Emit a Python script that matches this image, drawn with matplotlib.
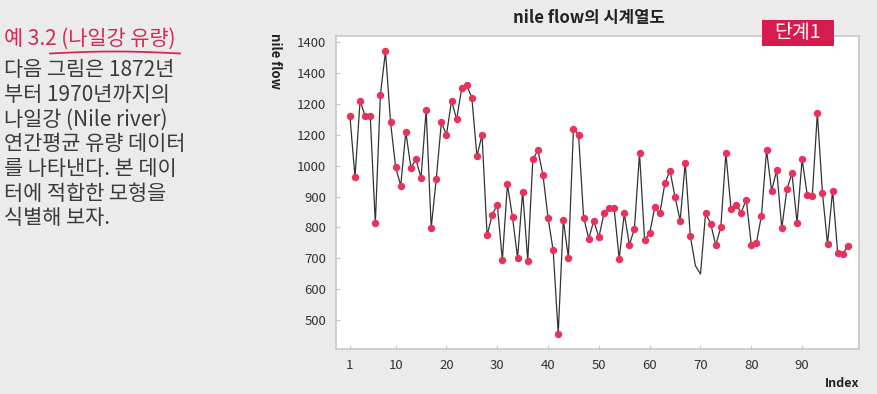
import numpy as np
import matplotlib
matplotlib.use('Agg')
import matplotlib.pyplot as plt
from matplotlib.lines import Line2D
from matplotlib.patches import Rectangle

plt.rcParams['font.family'] = ['Noto Sans CJK KR', 'DejaVu Sans']

# nile flow, 1872-1970
flow = [1160, 963, 1210, 1160, 1160, 813, 1230, 1370, 1140, 995,
        935, 1110, 994, 1020, 960, 1180, 799, 958, 1140, 1100,
        1210, 1150, 1250, 1260, 1220, 1030, 1100, 774, 840, 874,
        694, 940, 833, 701, 916, 692, 1020, 1050, 969, 831,
        726, 456, 824, 702, 1120, 1100, 832, 764, 821, 768,
        845, 864, 862, 698, 845, 744, 796, 1040, 759, 781,
        865, 845, 944, 984, 897, 822, 1010, 771, 676, 649,
        846, 812, 742, 801, 1040, 860, 874, 848, 890, 744,
        749, 838, 1050, 918, 986, 797, 923, 975, 815, 1020,
        906, 901, 1170, 912, 746, 919, 718, 714, 740]
no_marker = [69, 70]  # these two have no dot in the slide
xticks = [1, 10, 20, 30, 40, 50, 60, 70, 80, 90]
yticks = [1400, 1300, 1200, 1100, 1000, 900, 800, 700, 600, 500]
ytick_labels = ['1400', '1400', '1200', '1200', '1000', '900', '800', '700', '600', '500']

idx = np.arange(1, len(flow) + 1)
marks = [i for i in range(len(flow)) if idx[i] not in no_marker]

bg = '#ebebeb'
fig = plt.figure(figsize=(8.77, 3.94), dpi=100, facecolor=bg)
ax = fig.add_axes([0.383, 0.1142, 0.5965, 0.7944])
ax.set_facecolor('white')

ax.plot(idx, flow, color='#333333', lw=0.9, marker='o', markevery=marks,
        ms=4.3, mfc='#e8315c', mec='#e8315c', zorder=3)

ax.set_xlim(-1.76, 101.2)
ax.set_ylim(406, 1420)
ax.set_xticks(xticks)
ax.set_yticks(yticks)
ax.set_yticklabels(ytick_labels)
for s in ax.spines.values():
    s.set_color('#c8c8c8')
    s.set_linewidth(1.2)
ax.tick_params(direction='in', length=3, color='#c8c8c8', labelsize=9.5,
               labelcolor='#333333', pad=7)

fig.text(0.671, 0.955, 'nile flow의 시계열도', ha='center', va='center',
         fontsize=12, fontweight='bold', color='#222222')
fig.text(0.313, 0.917, 'nile flow', rotation=270, ha='center', va='top',
         fontsize=9.5, fontweight='bold', color='#222222')
fig.text(0.9795, 0.027, 'Index', ha='right', va='center',
         fontsize=9, fontweight='bold', color='#222222')

# badge
fig.add_artist(Rectangle((762 / 877, 1 - 46 / 394), 72 / 877, 26 / 394,
                         transform=fig.transFigure, fc='#d81b4e', ec='none',
                         zorder=5))
fig.text(798 / 877, 1 - 33 / 394, '단계1', ha='center', va='center',
         fontsize=14, color='white', zorder=6)

# left side text
fig.text(0.005, 0.902, '예 3.2 (나일강 유량)', ha='left', va='center',
         fontsize=15, color='#d42a52')
body = ['다음 그림은 1872년', '부터 1970년까지의', '나일강 (Nile river)',
        '연간평균 유량 데이터', '를 나타낸다. 본 데이', '터에 적합한 모형을',
        '식별해 보자.']
for k, line in enumerate(body):
    fig.text(0.005, 0.822 - k * 0.0627, line, ha='left', va='center',
             fontsize=15, color='#3a3a3a')

ux = np.linspace(50, 180, 30) / 877
uy = 1 - (53.5 - 2.0 * np.sin(np.linspace(0, np.pi, 30))) / 394
fig.add_artist(Line2D(ux, uy, color='#d42a52', lw=1.3, transform=fig.transFigure))

fig.savefig('out.png', dpi=100, facecolor=bg)
